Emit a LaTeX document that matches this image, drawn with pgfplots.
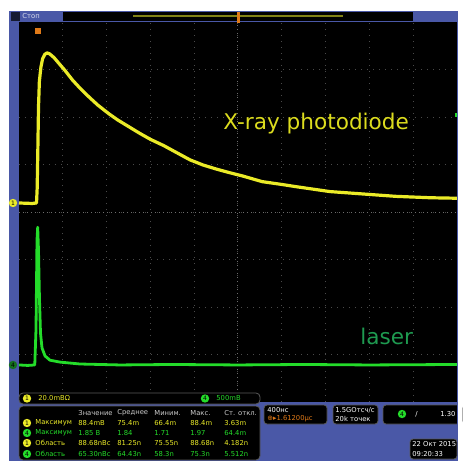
\documentclass[border=0pt]{standalone}
\usepackage{fontspec}
\setmainfont{DejaVu Sans}
\usepackage{pgfplots}
\pgfplotsset{compat=1.18}

\definecolor{bezel}{HTML}{4A58A7}
\definecolor{ch1}{HTML}{EBEB28}
\definecolor{ch1txt}{HTML}{DCDC1E}
\definecolor{ch4}{HTML}{24DC2A}
\definecolor{ch4txt}{HTML}{1E9A50}
\definecolor{ch4dark}{HTML}{14701E}
\definecolor{gridgray}{HTML}{4A4A4A}
\definecolor{centergray}{HTML}{6E6E6E}
\definecolor{trigorange}{HTML}{E07A18}
\definecolor{panelline}{HTML}{5A5A5A}

\newcommand{\scr}{\fontsize{3.4}{4}\selectfont}
\newcommand{\chip}[3]{\node[circle,fill=#1,inner sep=0pt,minimum size=4.2pt,font=\fontsize{3}{3}\selectfont] at #2 {#3};}

\begin{document}
\begin{tikzpicture}
% ---------- instrument bezel, in pixel units (y downwards) ----------
\begin{scope}[x=0.5pt,y=-0.5pt]
  \fill[white] (0,0) rectangle (462,470);
  \fill[bezel] (9,11) rectangle (458,461);
  \fill[black] (19,22) rectangle (457,402);
  % status strip
  \fill[black!70!bezel] (11,12) rectangle (20,21);
  \node[anchor=west,text=white!80!bezel,font=\scr,inner sep=0pt] at (22,16.5) {Стоп};
  \fill[black] (63,12) rectangle (413,21);
  \draw[ch1!55!black,line width=1pt] (133,16.5) -- (343,16.5);
  \fill[trigorange] (236.5,12) rectangle (239.5,23);
  % trigger position flag
  \fill[trigorange] (35,28) rectangle (41,34);
\end{scope}

% ---------- screen with both channels ----------
\begin{axis}[
  at={(9.5pt,-201pt)}, anchor=south west,
  scale only axis, width=219pt, height=190pt,
  xmin=-5, xmax=5, ymin=-4, ymax=4,
  axis line style={draw=none},
  tick style={draw=none},
  xtick={-4,...,4}, ytick={-3,...,3},
  xticklabel=\empty, yticklabel=\empty,
  grid=major,
  major grid style={draw=gridgray,line width=0.5pt,dash pattern=on 0.5pt off 2.5pt},
]
  \draw[centergray,line width=0.5pt,dash pattern=on 0.5pt off 1.5pt] (axis cs:0,-4) -- (axis cs:0,4);
  \draw[centergray,line width=0.5pt,dash pattern=on 0.5pt off 1.5pt] (axis cs:-5,0) -- (axis cs:5,0);
  % channel 4: laser pulse
  \addplot[ch4,line width=1.4pt,line join=round] coordinates {
    (-5.00,-3.22) (-4.80,-3.23) (-4.64,-3.22) (-4.612,-2.48) (-4.589,-0.59)
    (-4.573,-0.32) (-4.555,-0.80) (-4.532,-1.85) (-4.509,-2.55) (-4.475,-2.86)
    (-4.406,-3.03) (-4.292,-3.12) (-4.064,-3.16) (-3.607,-3.20) (-2.694,-3.22)
    (-1.50,-3.21) (0.00,-3.22) (1.50,-3.21) (3.00,-3.22) (5.00,-3.21)
  };
  % channel 1: X-ray photodiode signal
  \addplot[ch1,line width=1.6pt,line join=round] coordinates {
    (-5.00,0.19) (-4.70,0.18) (-4.60,0.19) (-4.585,0.50) (-4.57,1.30)
    (-4.555,2.20) (-4.535,2.75) (-4.50,3.05) (-4.46,3.23) (-4.41,3.32)
    (-4.36,3.35) (-4.30,3.33) (-4.20,3.25) (-4.08,3.12) (-3.95,2.98)
    (-3.78,2.78) (-3.60,2.60) (-3.40,2.42) (-3.20,2.25) (-2.95,2.07)
    (-2.75,1.94) (-2.50,1.80) (-2.25,1.66) (-2.00,1.53) (-1.70,1.40)
    (-1.40,1.25) (-1.10,1.10) (-0.80,0.99) (-0.48,0.90) (-0.20,0.83)
    (0.10,0.76) (0.55,0.64) (1.00,0.58) (1.35,0.53) (2.10,0.43)
    (2.85,0.38) (3.60,0.33) (4.40,0.30) (5.00,0.29)
  };
\end{axis}

% ---------- annotations and readouts ----------
\begin{scope}[x=0.5pt,y=-0.5pt]
  \node[anchor=base west,inner sep=0pt,text=ch1txt,font=\fontsize{10.8}{12}\selectfont] at (223,130) {X-ray photodiode};
  \node[anchor=base west,inner sep=0pt,text=ch4txt,font=\fontsize{10.8}{12}\selectfont] at (360,344) {laser};
  % ground markers
  \chip{ch1}{(13,203)}{1}
  \chip{ch4dark}{(13,365)}{4}
  \fill[ch4] (455,113) rectangle (457,117);
  % channel bar
  \draw[panelline,fill=black,rounded corners=2pt] (19,393) rectangle (260,404);
  \chip{ch1}{(27,398.5)}{1}
  \node[anchor=west,inner sep=0pt,text=ch1,font=\scr] at (38,398.5) {20.0mВΩ};
  \chip{ch4}{(205,398.5)}{4}
  \node[anchor=west,inner sep=0pt,text=ch4,font=\scr] at (216,398.5) {500mВ};
  % measurement table
  \draw[panelline,fill=black,rounded corners=2pt] (19,406) rectangle (260,460);
  \foreach \x/\t in {78/Значение,117/Среднее,154/Миним.,190/Макс.,224/Ст. откл.}
    \node[anchor=west,inner sep=0pt,text=white!80!black,font=\scr] at (\x,413) {\t};
  \foreach \y/\c/\n/\a/\b/\d/\e/\f/\g in {
      423/ch1/1/Максимум/88.4mВ/75.4m/66.4m/88.4m/3.63m,
      433/ch4/4/Максимум/1.85 В/1.84/1.71/1.97/64.4m,
      443/ch1/1/Область/88.68nВс/81.25n/75.55n/88.68n/4.182n,
      454/ch4/4/Область/65.30nВс/64.43n/58.3n/75.3n/5.512n}{
    \chip{\c}{(27,\y)}{\n}
    \node[anchor=west,inner sep=0pt,text=\c,font=\scr] at (35,\y) {\a};
    \node[anchor=west,inner sep=0pt,text=\c,font=\scr] at (78,\y) {\b};
    \node[anchor=west,inner sep=0pt,text=\c,font=\scr] at (117,\y) {\d};
    \node[anchor=west,inner sep=0pt,text=\c,font=\scr] at (154,\y) {\e};
    \node[anchor=west,inner sep=0pt,text=\c,font=\scr] at (190,\y) {\f};
    \node[anchor=west,inner sep=0pt,text=\c,font=\scr] at (224,\y) {\g};
  }
  % horizontal, acquisition and trigger boxes
  \draw[panelline,fill=black,rounded corners=1.5pt] (264,405) rectangle (327,424);
  \node[anchor=west,inner sep=0pt,text=white,font=\scr] at (267,410) {400нс};
  \node[anchor=west,inner sep=0pt,text=trigorange,font=\scr] at (267,419) {⊕▸1.61200μс};
  \draw[panelline,fill=black,rounded corners=1.5pt] (333,405) rectangle (378,424);
  \node[anchor=west,inner sep=0pt,text=white,font=\scr] at (335,410) {1.5GОтсч/с};
  \node[anchor=west,inner sep=0pt,text=white,font=\scr] at (335,419) {20k точек};
  \draw[panelline,fill=black,rounded corners=1.5pt] (383,405) rectangle (462,424);
  \chip{ch4}{(402,414)}{4}
  \node[anchor=west,inner sep=0pt,text=white,font=\scr] at (415,414) {/};
  \node[anchor=west,inner sep=0pt,text=white,font=\scr] at (440,414) {1.30 В};
  \fill[white] (458,404) rectangle (462,426);
  \fill[bezel] (457,404) rectangle (458,426);
  \draw[panelline,fill=black,rounded corners=1.5pt] (410,439) rectangle (457,459);
  \node[anchor=west,inner sep=0pt,text=white,font=\scr] at (412,444) {22 Окт 2015};
  \node[anchor=west,inner sep=0pt,text=white,font=\scr] at (412,454) {09:20:33};
\end{scope}
\end{tikzpicture}
\end{document}
